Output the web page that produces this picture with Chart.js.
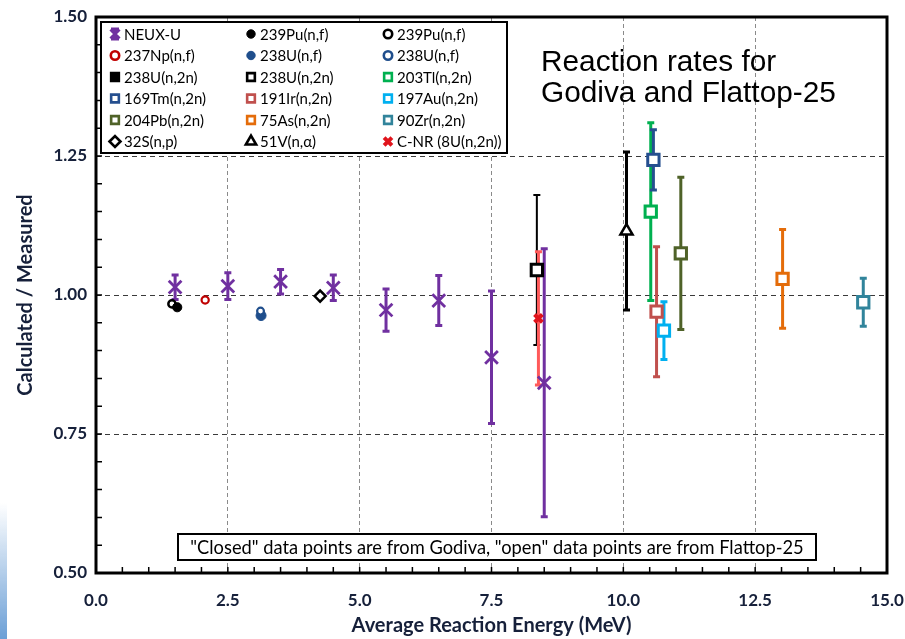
<!DOCTYPE html>
<html>
<head>
<meta charset="utf-8">
<title>Reaction rates for Godiva and Flattop-25</title>
<script src="https://cdn.jsdelivr.net/npm/chart.js@4.4.1/dist/chart.umd.min.js"></script>
<style>
  html, body { margin: 0; padding: 0; background: #fff; }
  #wrap { position: relative; width: 905px; height: 639px; }
  #edge {
    position: absolute; left: 0; top: 503px; width: 7px; height: 136px;
    background: linear-gradient(to bottom, rgba(255,255,255,0), #6b9fd6);
  }
</style>
</head>
<body>
<div id="wrap">
  <canvas id="rateChart" width="905" height="639"></canvas>
  <div id="edge"></div>
</div>
<script>
// NEUX-U spectrum ratios (with uncertainties)
const neuxEnergy = [1.5, 2.5, 3.5, 4.5, 5.5, 6.5, 7.5, 8.5];
const neuxRatio = [1.014, 1.016, 1.024, 1.013, 0.973, 0.990, 0.888, 0.842];
const neuxError = [0.022, 0.024, 0.022, 0.023, 0.038, 0.045, 0.119, 0.241];

// single reaction rates, legend order
const reactionLabels = [
  "239Pu(n,f)", "239Pu(n,f)", "237Np(n,f)", "238U(n,f)", "238U(n,f)",
  "238U(n,2n)", "238U(n,2n)", "203Tl(n,2n)", "169Tm(n,2n)", "191Ir(n,2n)",
  "197Au(n,2n)", "204Pb(n,2n)", "75As(n,2n)", "90Zr(n,2n)", "32S(n,p)",
  "51V(n,\u03b1)", "C-NR (8U(n,2n))"
];
const reactionEnergy = [1.54, 1.44, 2.07, 3.13, 3.12, 8.36, 8.36, 10.52, 10.57, 10.63, 10.77, 11.09, 13.02, 14.55, 4.25, 10.06, 8.39];
const reactionRatio = [0.978, 0.984, 0.991, 0.963, 0.971, 1.045, 1.045, 1.150, 1.243, 0.970, 0.936, 1.075, 1.029, 0.987, 0.998, 1.115, 0.958];
const reactionError = [0, 0, 0, 0, 0, 0, 0.135, 0.160, 0.054, 0.117, 0.052, 0.137, 0.089, 0.043, 0, 0.142, 0.120];

// axis ticks
const xTicks = [0, 2.5, 5, 7.5, 10, 12.5, 15];
const yTicks = [0.5, 0.75, 1.0, 1.25, 1.5];

const labelColor = "#16203a";

// marker look for each reaction (same order as reactionLabels)
const reactionStyles = [
  { shape: "circle", color: "#000000", open: false, r: 4.6, bw: 1, order: 0 },
  { shape: "circle", color: "#000000", open: true, r: 3.6, bw: 2.5, order: 1 },
  { shape: "circle", color: "#c00000", open: true, r: 3.6, bw: 2.2 },
  { shape: "circle", color: "#1f4e8c", open: false, r: 5, bw: 1, order: 1 },
  { shape: "circle", color: "#1f4e8c", open: true, r: 3.4, bw: 2.2, order: 0 },
  { shape: "rect", color: "#000000", open: false, r: 8, bw: 1, order: 3 },
  { shape: "rect", color: "#000000", open: true, r: 8, bw: 3, order: 0, bar: "#000000", barW: 2 },
  { shape: "rect", color: "#00b050", open: true, r: 8, bw: 3, bar: "#00b050", barW: 3 },
  { shape: "rect", color: "#254f8f", open: true, r: 8, bw: 3, order: -1, bar: "#254f8f", barW: 3 },
  { shape: "rect", color: "#c0504d", open: true, r: 8, bw: 3, bar: "#c0504d", barW: 3 },
  { shape: "rect", color: "#00b0f0", open: true, r: 8, bw: 3, bar: "#00b0f0", barW: 3 },
  { shape: "rect", color: "#4f6228", open: true, r: 8, bw: 3, bar: "#4f6228", barW: 3 },
  { shape: "rect", color: "#e46c0a", open: true, r: 8, bw: 3, bar: "#e46c0a", barW: 3 },
  { shape: "rect", color: "#31849b", open: true, r: 8, bw: 3, bar: "#31849b", barW: 3 },
  { shape: "rectRot", color: "#000000", open: true, r: 5.5, bw: 2.5 },
  { shape: "triangle", color: "#000000", open: true, r: 7, bw: 2.5, bar: "#000000", barW: 3 },
  { shape: "crossRot", color: "#e0141c", open: false, r: 5.5, bw: 4, order: -2, bar: "#ff5a5a", barW: 3 }
];
const neuxStyle = { shape: "crossRot", color: "#7030a0", r: 9, bw: 2.8, bar: "#7030a0", barW: 3 };

const datasets = [{
  label: "NEUX-U",
  data: neuxEnergy.map((x, i) => ({ x: x, y: neuxRatio[i] })),
  errors: neuxError,
  barColor: neuxStyle.bar,
  barWidth: neuxStyle.barW,
  pointStyle: neuxStyle.shape,
  pointRadius: neuxStyle.r,
  pointBorderWidth: neuxStyle.bw,
  pointBorderColor: neuxStyle.color,
  pointBackgroundColor: neuxStyle.color,
  order: 0
}];

reactionLabels.forEach((label, i) => {
  const s = reactionStyles[i];
  datasets.push({
    label: label,
    data: [{ x: reactionEnergy[i], y: reactionRatio[i] }],
    errors: [reactionError[i]],
    barColor: s.bar || s.color,
    barWidth: s.barW || 2,
    pointStyle: s.shape,
    pointRadius: s.r,
    pointBorderWidth: s.bw,
    pointBorderColor: s.color,
    pointBackgroundColor: s.open ? "#ffffff" : s.color,
    order: s.order || 0
  });
});

// vertical error bars with caps, drawn under the markers
const errorBars = {
  id: "errorBars",
  beforeDatasetsDraw(chart) {
    const { ctx, scales: { x, y } } = chart;
    ctx.save();
    chart.data.datasets.forEach((ds) => {
      ds.data.forEach((p, i) => {
        const e = ds.errors ? ds.errors[i] : 0;
        if (!e) return;
        const px = x.getPixelForValue(p.x);
        const top = y.getPixelForValue(p.y + e);
        const bot = y.getPixelForValue(p.y - e);
        ctx.strokeStyle = ds.barColor;
        ctx.lineWidth = ds.barWidth;
        ctx.beginPath();
        ctx.moveTo(px, top);
        ctx.lineTo(px, bot);
        ctx.moveTo(px - 3.5, top);
        ctx.lineTo(px + 3.5, top);
        ctx.moveTo(px - 3.5, bot);
        ctx.lineTo(px + 3.5, bot);
        ctx.stroke();
      });
    });
    ctx.restore();
  }
};

function drawMarker(ctx, s, x, y, scale) {
  ctx.fillStyle = s.open ? "#ffffff" : s.color;
  ctx.strokeStyle = s.color;
  ctx.lineWidth = s.bw;
  Chart.helpers.drawPoint(ctx, { pointStyle: s.shape, radius: s.r * scale, rotation: 0, borderWidth: s.bw }, x, y);
}

// frame, inward minor ticks, legend box, note and title
const decorations = {
  id: "decorations",
  afterDraw(chart) {
    const { ctx, chartArea: a, scales: { x, y } } = chart;
    ctx.save();

    // minor tick marks pointing into the plot
    ctx.strokeStyle = "#000";
    ctx.lineWidth = 1.5;
    ctx.beginPath();
    for (let k = 1; k < 30; k++) {
      const px = x.getPixelForValue(k * 0.5);
      ctx.moveTo(px, a.bottom);
      ctx.lineTo(px, a.bottom - 6);
    }
    for (let k = 1; k < 20; k++) {
      const py = y.getPixelForValue(0.5 + k * 0.05);
      ctx.moveTo(a.left, py);
      ctx.lineTo(a.left + 6, py);
    }
    ctx.stroke();

    // plot frame
    ctx.lineWidth = 3;
    ctx.strokeRect(a.left, a.top, a.right - a.left, a.bottom - a.top);

    // legend box
    const lx = 101, ly = 22, lw = 406, lh = 131;
    ctx.fillStyle = "#fff";
    ctx.fillRect(lx, ly, lw, lh);
    ctx.lineWidth = 2;
    ctx.strokeStyle = "#000";
    ctx.strokeRect(lx, ly, lw, lh);

    const colX = [115, 251, 388];
    const entries = [{ label: "NEUX-U", style: neuxStyle, neux: true }]
      .concat(reactionLabels.map((l, i) => ({ label: l, style: reactionStyles[i] })));
    ctx.font = "15px Lato";
    ctx.textBaseline = "middle";
    ctx.textAlign = "left";
    entries.forEach((en, i) => {
      const mx = colX[i % 3];
      const my = 34 + Math.floor(i / 3) * 21.5;
      if (en.neux) {
        ctx.strokeStyle = en.style.color;
        ctx.lineWidth = 3;
        ctx.beginPath();
        ctx.moveTo(mx, my - 5); ctx.lineTo(mx, my + 5);
        ctx.moveTo(mx - 4, my - 5); ctx.lineTo(mx + 4, my - 5);
        ctx.moveTo(mx - 4, my + 5); ctx.lineTo(mx + 4, my + 5);
        ctx.moveTo(mx - 4.5, my - 4.5); ctx.lineTo(mx + 4.5, my + 4.5);
        ctx.moveTo(mx + 4.5, my - 4.5); ctx.lineTo(mx - 4.5, my + 4.5);
        ctx.stroke();
      } else {
        const st = en.style;
        let sc = 1;
        if (st.shape === "rect") sc = 0.68;
        else if (st.shape === "circle") sc = 4.2 / st.r;
        else if (st.shape === "triangle") sc = 0.85;
        const s = Object.assign({}, st, { bw: st.shape === "crossRot" ? 4 : 2.6 });
        if (st.shape === "circle" && !st.open) s.bw = 1;
        drawMarker(ctx, s, mx, my, sc);
      }
      ctx.fillStyle = "#000";
      ctx.fillText(en.label, mx + 9, my + 1);
    });

    // source note
    ctx.fillStyle = "#fff";
    ctx.fillRect(178, 534, 638, 26);
    ctx.lineWidth = 2;
    ctx.strokeStyle = "#000";
    ctx.strokeRect(178, 534, 638, 26);
    ctx.fillStyle = "#000";
    ctx.font = "18.3px Lato";
    ctx.textAlign = "center";
    ctx.fillText('"Closed" data points are from Godiva, "open" data points are from Flattop-25', 497, 548);

    // title inside the plot
    ctx.font = '29.8px "Liberation Sans"';
    ctx.textAlign = "left";
    ctx.textBaseline = "alphabetic";
    ctx.fillText("Reaction rates for", 541, 71);
    ctx.fillText("Godiva and Flattop-25", 541, 102);
    ctx.restore();
  }
};

Chart.defaults.font.family = "Lato";

const chart = new Chart(document.getElementById("rateChart"), {
  type: "scatter",
  data: { datasets: datasets },
  options: {
    responsive: false,
    animation: false,
    events: [],
    layout: { padding: { left: 0, top: 17, right: 18, bottom: 0 } },
    plugins: {
      legend: { display: false },
      tooltip: { enabled: false }
    },
    scales: {
      x: {
        type: "linear",
        min: 0,
        max: 15,
        afterBuildTicks: (scale) => { scale.ticks = xTicks.map((v) => ({ value: v })); },
        afterFit: (scale) => { scale.height = 66; scale.paddingLeft = 0; scale.paddingRight = 0; },
        ticks: {
          autoSkip: false,
          maxRotation: 0,
          padding: 17,
          color: labelColor,
          font: { size: 17, weight: "bold" },
          callback: (v) => Number(v).toFixed(1)
        },
        grid: { color: "#8a8a8a", lineWidth: 1, drawTicks: false },
        border: { display: false, dash: [4, 3] },
        title: {
          display: true,
          text: "Average Reaction Energy (MeV)",
          color: labelColor,
          font: { size: 20, weight: "bold" },
          padding: { top: 0, bottom: 1 }
        }
      },
      y: {
        type: "linear",
        min: 0.5,
        max: 1.5,
        afterBuildTicks: (scale) => { scale.ticks = yTicks.map((v) => ({ value: v })); },
        afterFit: (scale) => { scale.width = 96; scale.paddingTop = 0; scale.paddingBottom = 0; },
        ticks: {
          padding: 9,
          color: labelColor,
          font: { size: 17, weight: "bold" },
          callback: (v) => Number(v).toFixed(2)
        },
        grid: { color: "#3a3a3a", lineWidth: 1, drawTicks: false },
        border: { display: false, dash: [5, 4] },
        title: {
          display: true,
          text: "Calculated / Measured",
          color: labelColor,
          font: { size: 20, weight: "bold" },
          padding: { top: 14, bottom: 0 }
        }
      }
    }
  },
  plugins: [errorBars, decorations]
});
</script>
</body>
</html>
